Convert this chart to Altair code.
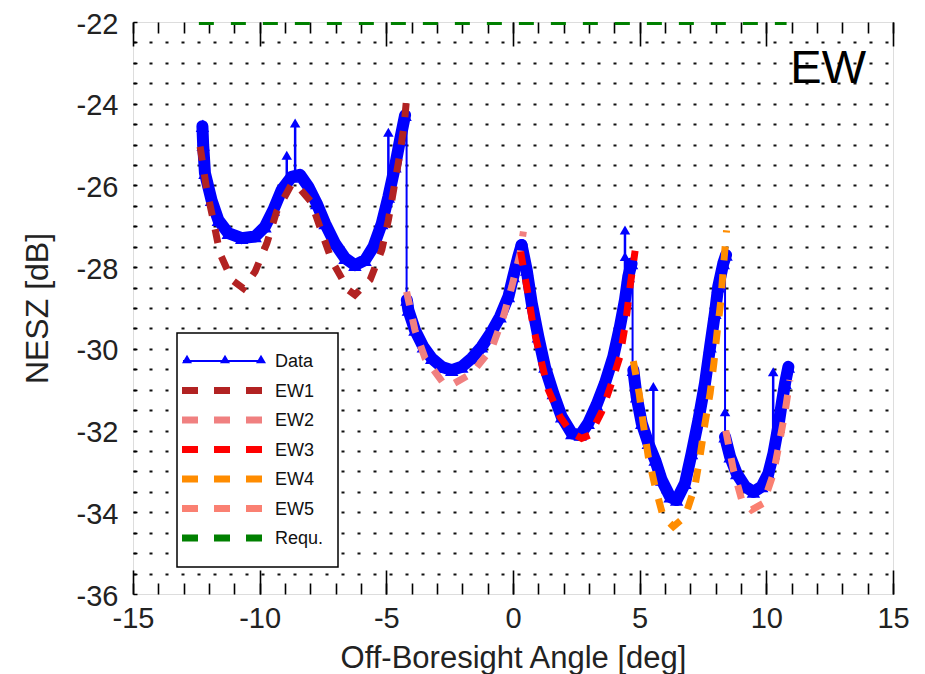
import altair as alt
import pandas as pd

# ---------------- data ----------------
# measured NESZ (blue "Data"), one array pair per beam
b1_x = [-12.26, -12.23, -12.16, -11.90, -11.63, -11.24, -10.71, -10.18, -9.79, -9.46, -9.13, -8.74,
        -8.41, -8.08, -7.75, -7.42, -7.03, -6.63, -6.24, -5.84, -5.51, -5.18, -4.92, -4.66, -4.46, -4.26]
b1_y = [-24.55, -25.01, -25.70, -26.36, -26.85, -27.17, -27.29, -27.25, -27.01, -26.60, -26.11, -25.79,
        -25.74, -26.03, -26.44, -26.93, -27.42, -27.78, -27.95, -27.83, -27.50, -26.93, -26.28, -25.54, -24.89, -24.28]
b2_x = [-4.19, -4.13, -3.87, -3.54, -3.21, -2.81, -2.42, -2.02, -1.63, -1.24, -0.84, -0.51, -0.18, 0.01, 0.21, 0.34]
b2_y = [-28.80, -29.05, -29.54, -29.95, -30.23, -30.44, -30.52, -30.44, -30.23, -29.95, -29.58, -29.21,
        -28.72, -28.23, -27.74, -27.46]
b3_x = [0.34, 0.54, 0.74, 1.00, 1.26, 1.59, 1.92, 2.32, 2.65, 2.97, 3.30, 3.63, 3.96, 4.22, 4.42, 4.55, 4.68]
b3_y = [-27.46, -28.07, -28.88, -29.70, -30.44, -31.09, -31.66, -32.07, -32.11, -31.82, -31.37, -30.84,
        -30.19, -29.46, -28.80, -28.23, -27.91]
b4_x = [4.75, 4.88, 5.08, 5.34, 5.61, 5.87, 6.20, 6.46, 6.79, 7.05, 7.32, 7.58, 7.78, 7.97, 8.10, 8.30, 8.41]
b4_y = [-30.52, -31.17, -31.82, -32.31, -32.72, -33.21, -33.62, -33.70, -33.29, -32.56, -31.74, -30.84,
        -29.95, -29.13, -28.48, -27.91, -27.70]
b5_x = [8.37, 8.57, 8.83, 9.16, 9.49, 9.82, 10.08, 10.28, 10.47, 10.61, 10.74, 10.87]
b5_y = [-32.15, -32.64, -33.05, -33.37, -33.50, -33.37, -33.05, -32.56, -31.91, -31.33, -30.84, -30.44]

# spikes in the measured data (thin stems topped by a triangle)
spike_x = [-12.24, -8.93, -8.60, -4.92, 4.42, 5.54, 10.27]
spike_base = [-25.00, -25.90, -25.75, -26.30, -28.80, -32.50, -32.60]
spike_top = [-24.50, -25.26, -24.47, -24.70, -27.09, -30.92, -30.56]
extra_tri_x = [4.42, 8.37]
extra_tri_y = [-27.74, -31.54]
# thin jumps between beams
link_x = [-4.20, 4.72, 8.37]
link_top = [-24.28, -27.90, -27.70]
link_bottom = [-28.80, -30.50, -32.15]

# model curves EW1..EW5
ew1_x = [-12.35, -12.29, -12.09, -11.83, -11.57, -11.10, -10.65, -10.18, -9.72, -9.33, -8.76, -8.60,
         -7.97, -7.58, -7.16, -6.50, -6.24, -5.64, -5.18, -4.92, -4.69, -4.46, -4.29, -4.20]
ew1_y = [-25.05, -25.30, -26.11, -26.85, -27.66, -28.31, -28.52, -28.11, -27.42, -26.64, -25.99, -25.95,
         -26.40, -27.09, -27.83, -28.56, -28.68, -28.31, -27.58, -26.85, -26.03, -25.21, -24.48, -23.87]
ew2_x = [-4.20, -3.87, -3.47, -2.75, -2.42, -1.63, -0.84, -0.38, -0.05, 0.28, 0.41]
ew2_y = [-28.60, -29.54, -30.23, -30.84, -30.88, -30.60, -29.99, -29.21, -28.48, -27.66, -27.13]
ew3_x = [0.30, 0.61, 0.80, 1.07, 1.39, 1.86, 2.30, 2.71, 3.04, 3.50, 3.89, 4.22, 4.46, 4.62, 4.82]
ew3_y = [-27.62, -28.72, -29.46, -30.19, -31.00, -31.66, -32.05, -32.19, -32.11, -31.54, -30.84, -30.19,
         -29.30, -28.48, -27.60]
ew4_x = [4.75, 4.98, 5.14, 5.34, 5.61, 5.93, 6.33, 6.79, 7.18, 7.38, 7.58, 7.78, 7.93, 8.06, 8.20, 8.30, 8.43]
ew4_y = [-30.30, -31.09, -31.82, -32.64, -33.37, -34.11, -34.35, -34.11, -33.37, -32.64, -31.82, -31.09,
         -30.35, -29.58, -28.85, -28.03, -27.10]
ew5_x = [8.40, 8.70, 9.03, 9.42, 9.88, 10.28, 10.51, 10.74, 10.93]
ew5_y = [-32.00, -32.96, -33.70, -33.94, -33.78, -33.05, -32.31, -31.54, -30.76]

# requirement line
requ_x = [-12.4, 10.8]
requ_y = [-22.0, -22.0]

legend_labels = ["Data", "EW1", "EW2", "EW3", "EW4", "EW5", "Requ."]
model_names = ["EW1", "EW2", "EW3", "EW4", "EW5"]
model_colors = ["#b22222", "#f08080", "#ff0000", "#ff8c00", "#fa8072"]
x_tick_values = list(range(-15, 16))
x_major_values = [-15, -10, -5, 0, 5, 10, 15]
y_tick_values = [-36 + 0.5 * i for i in range(29)]
y_grid_values = [-35.5 + 0.5 * i for i in range(27)]

FONT = "Liberation Sans"
TXT = "#222222"

# ---------------- tables ----------------
def seg(xs, ys, name):
    return pd.DataFrame({"x": xs, "y": ys, "series": name, "i": list(range(len(xs)))})

band = pd.concat([seg(b1_x, b1_y, "B1"), seg(b2_x, b2_y, "B2"), seg(b3_x, b3_y, "B3"),
                  seg(b4_x, b4_y, "B4"), seg(b5_x, b5_y, "B5")], ignore_index=True)
models = pd.concat([seg(ew1_x, ew1_y, "EW1"), seg(ew2_x, ew2_y, "EW2"), seg(ew3_x, ew3_y, "EW3"),
                    seg(ew4_x, ew4_y, "EW4"), seg(ew5_x, ew5_y, "EW5")], ignore_index=True)
spikes = pd.DataFrame({"x": spike_x, "y": spike_base, "y2": spike_top})
links = pd.DataFrame({"x": link_x, "y": link_top, "y2": link_bottom})
tris = pd.DataFrame({"x": spike_x + extra_tri_x, "y": spike_top + extra_tri_y})
requ = pd.DataFrame({"x": requ_x, "y": requ_y})
frame_df = pd.DataFrame({"x": [-15, 15], "y": [-36, -22]})

xs = alt.Scale(domain=[-15, 15], nice=False, zero=False)
ys = alt.Scale(domain=[-36, -22], nice=False, zero=False)

def X(field="x"):
    return alt.X(f"{field}:Q", scale=xs, axis=None)

def Y(field="y"):
    return alt.Y(f"{field}:Q", scale=ys, axis=None)

layers = []

# dotted horizontal grid
layers.append(alt.Chart(frame_df).mark_point(opacity=0).encode(
    x=X(),
    y=alt.Y("y:Q", scale=ys, axis=alt.Axis(values=y_grid_values, grid=True, gridDash=[3, 13],
                                            gridColor="#111111", gridWidth=2, ticks=False,
                                            labels=False, domain=False, title=None))))

# measured data band
layers.append(alt.Chart(band).mark_line(color="#0000ff", strokeWidth=12, strokeJoin="round",
                                        strokeCap="round").encode(
    x=X(), y=Y(), detail="series:N", order="i:Q"))
layers.append(alt.Chart(band).mark_point(shape="triangle-up", filled=True, size=180, color="#0000ff",
                                         opacity=1).encode(x=X(), y=Y()))
layers.append(alt.Chart(links).mark_rule(color="#0000ff", strokeWidth=2).encode(
    x=X(), y=Y(), y2="y2:Q"))
layers.append(alt.Chart(spikes).mark_rule(color="#0000ff", strokeWidth=2.5).encode(
    x=X(), y=Y(), y2="y2:Q"))
layers.append(alt.Chart(tris).mark_point(shape="triangle-up", filled=True, size=110, color="#0000ff",
                                         opacity=1).encode(x=X(), y=Y()))

# model curves
layers.append(alt.Chart(models).mark_line(strokeDash=[14, 14], strokeWidth=7).encode(
    x=X(), y=Y(), order="i:Q",
    color=alt.Color("series:N", scale=alt.Scale(domain=model_names, range=model_colors), legend=None)))

# requirement
layers.append(alt.Chart(requ).mark_line(color="#008000", strokeDash=[15, 17], strokeWidth=6,
                                        clip=True).encode(x=X(), y=Y()))

# axes with inward ticks
def xaxis_layer(orient, size, labels, title=None):
    kw = dict(orient=orient, values=x_major_values if size > 15 else x_tick_values, tickSize=size,
              offset=-size, domain=False, grid=False, tickColor="black", tickWidth=1.6,
              labels=labels)
    if labels:
        kw.update(labelExpr="datum.value % 5 === 0 ? '' + datum.value : ''", labelFontSize=29,
                  labelFont=FONT, labelColor=TXT, labelPadding=10, labelFlush=False,
                  labelOverlap=False)
    if title:
        kw.update(title=title, titleFontSize=31, titleFont=FONT, titleFontWeight="normal",
                  titleColor=TXT, titleY=84, titleBaseline="alphabetic")
    else:
        kw.update(title=None)
    return alt.Chart(frame_df).mark_point(opacity=0).encode(
        x=alt.X("x:Q", scale=xs, axis=alt.Axis(**kw)), y=Y())

layers.append(xaxis_layer("bottom", 11, True, "Off-Boresight Angle [deg]"))
layers.append(xaxis_layer("bottom", 24, False))
layers.append(xaxis_layer("top", 11, False))
layers.append(xaxis_layer("top", 24, False))

layers.append(alt.Chart(frame_df).mark_point(opacity=0).encode(
    x=X(),
    y=alt.Y("y:Q", scale=ys, axis=alt.Axis(
        orient="left", values=y_tick_values, tickSize=4, offset=-4, domain=False, grid=False,
        tickColor="black", tickWidth=1.5,
        labelExpr="datum.value % 2 === 0 ? '' + datum.value : ''", labelFontSize=29, labelFont=FONT,
        labelColor=TXT, labelPadding=15, labelFlush=False, labelOverlap=False, labelOffset=2,
        title="NESZ [dB]", titleFontSize=32, titleFont=FONT, titleFontWeight="normal",
        titleColor=TXT, titleX=-90, titleBaseline="alphabetic"))))

# legend (drawn by hand)
one = pd.DataFrame({"k": [0]})
layers.append(alt.Chart(one).mark_rect(fill="white", stroke="black", strokeWidth=1.5).encode(
    x=alt.value(44), x2=alt.value(205), y=alt.value(311), y2=alt.value(545)))
legend_colors = ["#0000ff"] + model_colors + ["#008000"]
row0, row_gap = 339, 29.5
for i, (lab, col) in enumerate(zip(legend_labels, legend_colors)):
    yy = row0 + i * row_gap
    if i == 0:
        layers.append(alt.Chart(one).mark_rule(color=col, strokeWidth=2).encode(
            x=alt.value(50), x2=alt.value(130), y=alt.value(yy)))
        for tx in (54, 92, 128):
            layers.append(alt.Chart(one).mark_point(shape="triangle-up", filled=True, size=100,
                                                    color=col, opacity=1).encode(
                x=alt.value(tx), y=alt.value(yy - 2)))
    else:
        layers.append(alt.Chart(one).mark_rule(color=col, strokeWidth=7, strokeDash=[16, 16]).encode(
            x=alt.value(49), x2=alt.value(129), y=alt.value(yy)))
    layers.append(alt.Chart(one).mark_text(text=lab, font=FONT, fontSize=18, color="#111111",
                                           align="left", baseline="middle").encode(
        x=alt.value(142), y=alt.value(yy + 1)))

# panel tag
layers.append(alt.Chart(one).mark_text(text="EW", font=FONT, fontSize=47, color="black",
                                       align="right", baseline="alphabetic").encode(
    x=alt.value(733), y=alt.value(61)))

chart = alt.layer(*layers).resolve_axis(x="independent", y="independent").properties(
    width=760, height=572,
    padding={"left": 133, "top": 22, "right": 32, "bottom": 80},
    autosize=alt.AutoSizeParams(type="none"),
).configure_view(stroke="black", strokeWidth=2).configure(background="white")

chart.save("out.html", embed_options={"renderer": "svg", "actions": False})
